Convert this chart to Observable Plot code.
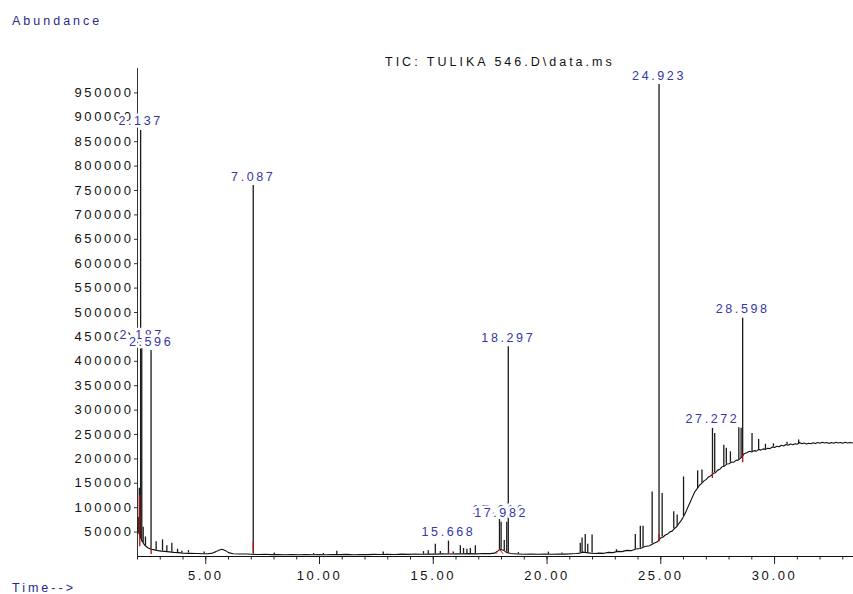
<!DOCTYPE html>
<html>
<head>
<meta charset="utf-8">
<script src="https://cdn.jsdelivr.net/npm/d3@7"></script>
<script src="https://cdn.jsdelivr.net/npm/@observablehq/plot@0.6"></script>
<style>
  body { margin: 0; background: white; }
  #wrap { position: relative; width: 853px; height: 594px; overflow: hidden; }
  .lbl { position: absolute; font-family: 'Liberation Sans', Arial, sans-serif; font-size: 12.5px; line-height: 1; letter-spacing: 3px; white-space: nowrap; }
</style>
</head>
<body>
<div id="wrap">
  <div id="chart"></div>
  <div class="lbl" style="left:12px; top:15px; color:#1f2a8c;">Abundance</div>
  <div class="lbl" style="left:385px; top:56px; color:#111;">TIC: TULIKA 546.D\data.ms</div>
  <div class="lbl" style="left:12px; top:582px; color:#1f2a8c;">Time--&gt;</div>
</div>
<script>
// ---- Data ----
// Baseline trace: [time (min), abundance]
const baseline = [
  [2.00,60000],[2.05,50000],[2.12,40000],[2.20,32000],[2.30,24000],[2.45,18000],[2.60,15000],[2.75,13500],
  [2.90,12000],[3.05,11000],[3.20,10500],[3.40,9500],[3.60,8500],[3.80,8000],[4.00,7000],[4.30,6500],
  [4.60,6000],[4.90,5500],[5.10,5500],[5.30,7000],[5.45,10000],[5.60,13500],[5.72,15000],[5.85,12500],
  [6.00,8000],[6.20,5500],[6.50,5000],[6.80,5000],[7.00,4500],[7.30,4000],[7.60,4500],[7.90,3800],
  [8.20,4200],[8.50,3600],[8.80,4100],[9.10,3500],[9.40,4000],[9.70,3600],[10.00,3900],[10.30,3500],
  [10.60,4200],[10.90,3800],[11.20,4300],[11.50,3700],[11.80,4200],[12.10,3900],[12.40,4400],[12.70,4000],
  [13.00,4600],[13.30,4200],[13.60,4800],[13.90,4400],[14.20,5000],[14.50,4600],[14.80,5200],[15.10,4800],
  [15.40,5400],[15.70,5000],[16.00,5700],[16.30,5300],[16.60,5900],[16.90,5400],[17.20,6000],[17.50,5800],
  [17.70,7000],[17.82,11000],[17.95,15000],[18.08,13000],[18.20,9000],[18.40,6000],[18.70,5200],[19.00,4600],
  [19.30,5000],[19.60,4500],[19.90,5000],[20.20,4500],[20.50,5100],[20.80,4800],[21.10,5500],[21.30,6000],
  [21.45,7000],[21.60,9000],[21.75,8000],[21.90,7000],[22.10,6000],[22.30,7000],[22.50,6500],[22.70,8500],
  [22.90,8000],[23.10,10500],[23.30,10000],[23.50,12500],[23.70,12000],[23.90,15500],[24.10,16500],[24.30,20500],
  [24.50,22000],[24.70,27000],[24.85,30000],[25.00,38000],[25.10,40000],[25.20,44000],[25.30,46000],[25.40,50500],
  [25.50,52000],[25.60,57500],[25.70,61000],[25.80,68000],[25.90,74000],[26.00,82000],[26.10,91000],[26.20,102000],
  [26.30,112000],[26.40,123000],[26.50,133000],[26.60,139000],[26.70,146000],[26.80,150000],[26.90,155000],[27.00,158000],
  [27.10,163000],[27.20,165500],[27.30,170000],[27.40,171500],[27.50,177000],[27.60,179000],[27.70,184000],[27.80,185000],
  [27.90,189500],[28.00,190000],[28.10,193500],[28.20,193000],[28.30,197000],[28.40,197500],[28.50,201000],[28.55,203000],
  [28.65,210000],[28.80,213000],[28.90,215500],[29.00,214000],[29.10,217000],[29.20,216000],[29.30,219500],[29.40,218000],
  [29.50,220500],[29.60,219500],[29.70,222000],[29.80,221000],[29.90,224500],[30.00,223500],[30.10,226000],[30.20,225000],
  [30.30,228000],[30.40,226500],[30.50,229500],[30.60,228000],[30.70,230500],[30.80,229000],[30.90,231000],[31.00,230000],
  [31.10,233500],[31.20,231000],[31.30,232500],[31.40,230500],[31.50,232000],[31.60,231000],[31.70,233000],[31.80,231500],
  [31.90,233500],[32.00,232000],[32.10,234000],[32.20,232500],[32.30,233500],[32.40,231500],[32.50,233500],[32.60,232000],
  [32.70,234000],[32.80,232500],[32.90,233500],[33.00,232000],[33.10,234000],[33.20,232500],[33.30,233500],[33.47,232500]
];

// Peaks: retention time, apex abundance, abundance at the peak base
const peakTime = [2.03,2.08,2.137,2.187,2.25,2.35,2.596,2.82,3.10,3.29,3.51,3.76,3.95,4.24,4.93,7.087,8.01,9.74,10.17,10.76,12.80,14.57,14.78,15.09,15.31,15.668,15.88,16.19,16.33,16.48,16.63,16.85,17.910,17.982,18.12,18.23,18.297,18.74,20.06,20.66,21.46,21.54,21.68,21.79,21.98,23.05,23.88,24.10,24.22,24.62,24.923,25.06,25.57,25.72,26.00,26.62,26.81,27.272,27.37,27.77,27.88,28.06,28.43,28.53,28.598,29.01,29.30,29.60,29.95,30.55,31.06];
const peakAbund = [80000,140000,873000,435000,60000,40000,422000,30000,34000,22000,27000,15000,11000,12000,9000,760000,7000,6000,6000,11000,9000,10000,12000,25000,10000,31500,9000,22000,16500,15000,16500,22000,76000,70000,33000,70000,430000,8000,9000,7000,27000,38000,45000,25000,44000,14000,45000,62000,62000,132000,967000,129000,91500,85000,163000,175500,177000,262500,252000,228000,222000,214500,264000,263000,488000,252000,240000,230000,231000,234000,238500];
const peakBase = [55000,45000,38000,30000,28000,22000,15000,13000,11000,10000,9000,8000,7500,7000,5500,4500,4000,3500,3500,4000,4000,4500,4500,5000,5000,5000,5500,5500,5500,5500,5500,5500,14000,15000,12000,9000,8000,5000,4500,5000,7000,7500,8500,8000,7000,10000,15000,17000,19000,26000,33000,40000,57000,61000,82000,139000,150000,170000,171500,184000,189000,193000,197500,201000,205000,214000,219500,219500,224000,229000,230000];

// Integration baseline marks (red): time, from, to
const redTime = [2.10,2.60,7.09,15.67,18.30,24.93,27.27,28.60];
const redFrom = [20000,4000,10000,5000,6000,30000,160000,192000];
const redTo   = [125000,15000,30000,9000,9000,45000,173000,208000];
const redTriTime = [17.76,17.91,18.06];
const redTriAbund = [6000,15000,6000];

// Labelled peaks
const labelTime  = [2.137,2.187,2.596,7.087,15.668,17.910,17.982,18.297,24.923,27.272,28.598];
const labelAbund = [873000,435000,422000,760000,31500,76000,70000,430000,967000,262500,488000];
const labelText  = ["2.137","2.187","2.596","7.087","15.668","17.910","17.982","18.297","24.923","27.272","28.598"];

// Axis ticks
const xMinor = d3.range(2, 34, 1);
const xMajor = [5,10,15,20,25,30];
const xTickLabels = ["5.00","10.00","15.00","20.00","25.00","30.00"];
const yTicks = [50000,100000,150000,200000,250000,300000,350000,400000,450000,500000,550000,600000,650000,700000,750000,800000,850000,900000,950000];
const yTickLabels = ["50000","100000","150000","200000","250000","300000","350000","400000","450000","500000","550000","600000","650000","700000","750000","800000","850000","900000","950000"];

// ---- Tables ----
const base = baseline.map(([t, a]) => ({t, a}));
const peaks = peakTime.map((t, i) => ({t, a: peakAbund[i], b: peakBase[i]}));
const reds = redTime.map((t, i) => ({t, a1: redFrom[i], a2: redTo[i]}));
const redTri = redTriTime.map((t, i) => ({t, a: redTriAbund[i]}));
const labels = labelTime.map((t, i) => ({t, a: labelAbund[i], s: labelText[i]}));

const chart = Plot.plot({
  width: 853,
  height: 594,
  marginLeft: 137,
  marginRight: 0,
  marginTop: 68,
  marginBottom: 38,
  x: {domain: [2, 33.47]},
  y: {domain: [0, 1000000]},
  style: {
    fontFamily: "'Liberation Sans', Arial, sans-serif",
    fontSize: "13px",
    letterSpacing: "2.6px",
    color: "#111",
    background: "white",
    overflow: "visible"
  },
  marks: [
    Plot.axisX({ticks: xMinor, tickSize: 3.5, tickFormat: () => "", label: null, stroke: "#222"}),
    Plot.axisX({ticks: xMajor, tickSize: 8, tickPadding: 6, label: null, stroke: "#222",
      tickFormat: d => xTickLabels[xMajor.indexOf(d)]}),
    Plot.axisY({ticks: yTicks, tickSize: 3, tickPadding: 1, label: null, stroke: "#333",
      tickFormat: d => yTickLabels[yTicks.indexOf(d)]}),
    Plot.ruleY([0], {stroke: "#111", strokeWidth: 1.2}),
    Plot.ruleX([2], {stroke: "#333", strokeWidth: 1}),
    Plot.line(base, {x: "t", y: "a", stroke: "#111", strokeWidth: 1.1}),
    Plot.ruleX(peaks, {x: "t", y1: "b", y2: "a", stroke: "#1a1a1a", strokeWidth: 1.3}),
    Plot.ruleX(reds, {x: "t", y1: "a1", y2: "a2", stroke: "#b01010", strokeWidth: 1.3}),
    Plot.line(redTri, {x: "t", y: "a", stroke: "#c01818", strokeWidth: 1}),
    Plot.text(labels, {x: "t", y: "a", text: "s", dy: -9, lineAnchor: "middle", textAnchor: "middle",
      fill: "#3535a8", stroke: "white", strokeWidth: 5, fontSize: 12.5})
  ]
});
document.getElementById("chart").appendChild(chart);
</script>
</body>
</html>
